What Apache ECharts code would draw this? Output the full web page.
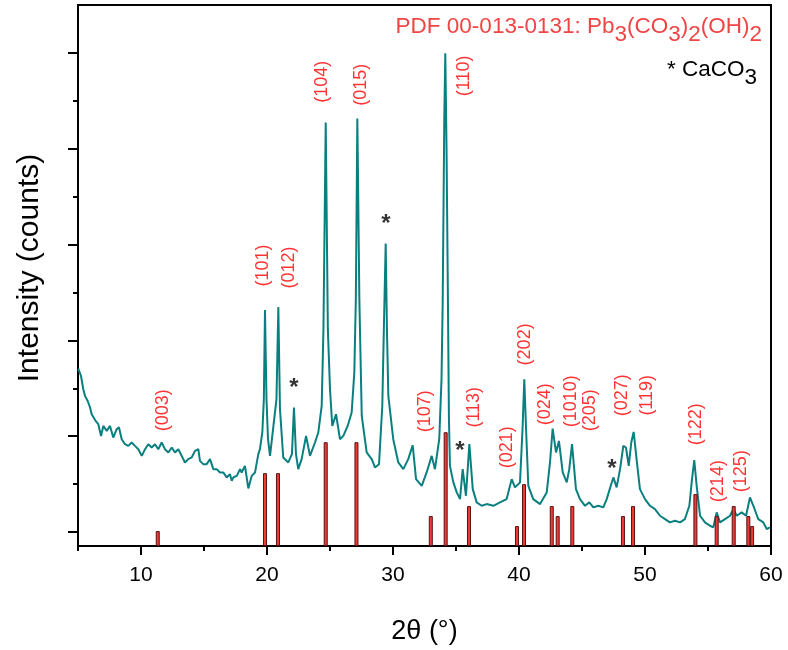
<!DOCTYPE html>
<html>
<head>
<meta charset="utf-8">
<title>XRD Pb3(CO3)2(OH)2</title>
<script src="https://cdn.jsdelivr.net/npm/echarts@6/dist/echarts.min.js"></script>
<style>
  html, body { margin: 0; padding: 0; background: #fff; }
  #chart { width: 788px; height: 650px; }
</style>
</head>
<body>
<div id="chart"></div>
<script>
// measured pattern: 2θ (deg) and intensity (counts)
const twoTheta = [
  5.02, 5.24, 5.42, 5.56, 5.77, 5.95, 6.09, 6.21, 6.40, 6.61, 6.83, 7.01, 7.28, 7.54, 7.80, 8.07, 8.25, 8.47, 8.73, 8.99,
  9.26, 9.52, 9.79, 10.06, 10.32, 10.58, 10.85, 11.11, 11.37, 11.64, 11.90, 12.17, 12.44, 12.70, 12.96, 13.23, 13.49, 13.75, 14.02, 14.29,
  14.55, 14.68, 14.94, 15.21, 15.48, 15.74, 16.01, 16.27, 16.53, 16.80, 17.06, 17.20, 17.33, 17.60, 17.86, 17.99, 18.25, 18.52, 18.79, 19.05,
  19.31, 19.44, 19.63, 19.75, 19.84, 19.96, 20.08, 20.24, 20.75, 20.90, 21.03, 21.29, 21.69, 21.98, 22.14, 22.30, 22.48, 22.75, 23.10, 23.41,
  23.81, 24.07, 24.34, 24.48, 24.66, 24.83, 25.00, 25.18, 25.48, 25.79, 26.06, 26.40, 26.72, 26.93, 27.05, 27.17, 27.33, 27.52, 27.91, 28.31,
  28.57, 28.89, 29.15, 29.29, 29.42, 29.52, 29.63, 29.76, 30.02, 30.42, 30.82, 30.95, 31.21, 31.56, 31.83, 32.28, 32.67, 33.07, 33.33, 33.67,
  33.85, 33.94, 34.07, 34.15, 34.25, 34.34, 34.44, 34.52, 34.79, 35.06, 35.32, 35.53, 35.79, 36.06, 36.33, 36.64, 37.04, 37.44, 37.96, 38.49,
  39.02, 39.42, 39.68, 40.08, 40.28, 40.42, 40.56, 40.74, 41.13, 41.67, 42.20, 42.46, 42.67, 42.94, 43.17, 43.47, 43.79, 43.99, 44.21, 44.52,
  44.84, 45.24, 45.58, 45.90, 46.29, 46.69, 46.96, 47.28, 47.49, 47.75, 48.02, 48.28, 48.49, 48.71, 48.91, 49.10, 49.39, 49.60, 50.00, 50.40,
  50.79, 51.19, 51.59, 51.98, 52.38, 52.78, 53.17, 53.52, 53.73, 53.91, 54.10, 54.37, 54.76, 55.16, 55.42, 55.69, 55.95, 56.35, 56.75, 57.01,
  57.28, 57.67, 58.02, 58.33, 58.60, 58.99, 59.39, 59.66, 59.92
];
const counts = [
  1777, 1703, 1570, 1503, 1453, 1390, 1320, 1303, 1253, 1220, 1103, 1203, 1153, 1203, 1087, 1170, 1190, 1070, 1020, 1003,
  1037, 1003, 970, 903, 970, 1020, 987, 1020, 970, 1037, 970, 937, 987, 937, 970, 903, 837, 870, 887, 953,
  970, 853, 820, 820, 870, 770, 770, 737, 737, 687, 720, 653, 687, 703, 770, 737, 803, 577, 703, 737,
  920, 970, 1140, 1470, 2363, 1470, 1070, 903, 1470, 2393, 1370, 887, 837, 920, 1387, 920, 770, 870, 1103, 903,
  1037, 1137, 1403, 2170, 4243, 2170, 1570, 1203, 1320, 1070, 1103, 1203, 1337, 1737, 2470, 4283, 2470, 1303, 937, 870,
  787, 820, 1403, 2270, 3030, 2170, 1503, 1503, 1070, 837, 770, 770, 870, 1010, 670, 603, 737, 903, 770, 1070,
  1670, 2403, 4270, 4937, 3970, 2740, 1270, 803, 637, 537, 470, 770, 503, 1020, 570, 437, 403, 420, 403, 437,
  470, 670, 587, 637, 1170, 1670, 1170, 603, 470, 420, 537, 837, 1177, 937, 1053, 737, 637, 770, 1020, 570,
  470, 403, 437, 387, 403, 387, 470, 603, 687, 587, 770, 1003, 987, 803, 1037, 1143, 803, 570, 470, 403,
  370, 303, 270, 237, 253, 237, 270, 403, 670, 860, 603, 303, 237, 203, 187, 337, 237, 270, 303, 370,
  303, 337, 303, 487, 403, 270, 237, 170, 187
];

// reference pattern PDF 00-013-0131 (stick positions and heights)
const stickPos = [11.33, 19.84, 20.87, 24.66, 27.10, 33.00, 34.18, 36.03, 39.84, 40.40, 42.60, 43.07, 44.23, 48.25, 49.05, 54.00, 55.69, 57.04, 58.20, 58.50];
const stickHeight = [150, 730, 730, 1040, 1040, 300, 1140, 400, 200, 620, 400, 300, 400, 300, 400, 520, 300, 400, 300, 200];

// hkl labels (centre position in data units)
const hklText = ['(003)', '(101)', '(012)', '(104)', '(015)', '(110)', '(107)', '(113)', '(021)', '(202)', '(024)', '(1010)', '(205)', '(027)', '(119)', '(122)', '(214)', '(125)'];
const hklX = [11.75, 19.68, 21.71, 24.37, 27.46, 35.63, 32.54, 36.43, 39.05, 40.48, 42.10, 44.13, 45.63, 48.17, 50.20, 54.05, 55.79, 57.62];
const hklY = [1360, 2810, 2790, 4650, 4620, 4710, 1350, 1390, 990, 2020, 1420, 1450, 1360, 1510, 1510, 1220, 650, 750];

// CaCO3 markers
const starX = [22.14, 29.44, 35.32, 47.38];
const starY = [1650, 3290, 1020, 840];

// axis ticks
const xMajor = [10, 20, 30, 40, 50, 60];
const xMinor = [5, 15, 25, 35, 45, 55];
const yMajor = [140, 1100, 2060, 3020, 3980, 4940];
const yMinor = [620, 1580, 2540, 3500, 4460];

const FONT = 'Liberation Sans, Arial, sans-serif';

const chart = echarts.init(document.getElementById('chart'));

const curveData = twoTheta.map((t, i) => [t, counts[i]]);
const stickData = stickPos.map((t, i) => [t, stickHeight[i]]);
const hklData = hklText.map((s, i) => ({ value: [hklX[i], hklY[i]], name: s }));
const starData = starX.map((t, i) => [t, starY[i]]);

const option = {
  animation: false,
  grid: {
    left: 78, right: 17, top: 5, bottom: 103,
    show: true, borderColor: '#000', borderWidth: 2
  },
  xAxis: [
    {
      type: 'value', min: 5, max: 60,
      name: '2θ (°)', nameLocation: 'middle', nameGap: 72,
      nameTextStyle: { fontSize: 27, fontFamily: FONT, color: '#000' },
      axisLine: { lineStyle: { color: '#000', width: 2 } },
      axisTick: { customValues: xMajor, length: 9, lineStyle: { color: '#000', width: 2 } },
      axisLabel: { customValues: xMajor, fontSize: 21, fontFamily: FONT, color: '#000', margin: 19 },
      splitLine: { show: false }
    },
    {
      type: 'value', min: 5, max: 60, position: 'bottom',
      axisLine: { show: false },
      axisTick: { customValues: xMinor, length: 5, lineStyle: { color: '#000', width: 2 } },
      axisLabel: { show: false },
      splitLine: { show: false }
    }
  ],
  yAxis: [
    {
      type: 'value', min: 0, max: 5420,
      axisLine: { show: true, lineStyle: { color: '#000', width: 2 } },
      axisTick: { show: true, customValues: yMajor, length: 10, lineStyle: { color: '#000', width: 2 } },
      axisLabel: { show: false },
      splitLine: { show: false }
    },
    {
      type: 'value', min: 0, max: 5420, position: 'left',
      axisLine: { show: false },
      axisTick: { show: true, customValues: yMinor, length: 5, lineStyle: { color: '#000', width: 2 } },
      axisLabel: { show: false },
      splitLine: { show: false }
    }
  ],
  series: [
    {
      type: 'line',
      data: curveData,
      showSymbol: false,
      lineStyle: { color: '#0a7f7f', width: 2 },
      z: 2
    },
    {
      type: 'bar',
      data: stickData,
      barWidth: 4,
      itemStyle: { color: '#ee3b36', borderColor: '#5a1212', borderWidth: 1 },
      z: 3
    },
    {
      type: 'scatter',
      data: hklData,
      symbolSize: 0,
      label: {
        show: true, position: 'inside', rotate: 90,
        formatter: p => p.name,
        fontSize: 18, fontFamily: FONT, color: '#ff0000'
      },
      z: 4
    },
    {
      type: 'scatter',
      data: starData,
      symbolSize: 0,
      label: {
        show: true, position: 'inside', offset: [0, 7],
        formatter: '*',
        fontSize: 24, fontWeight: 'bold', fontFamily: FONT, color: '#000'
      },
      z: 4
    }
  ],
  graphic: [
    {
      // y axis title
      type: 'text', x: 30, y: 268, rotation: Math.PI / 2,
      style: {
        text: 'Intensity (counts)', fontSize: 30, fontFamily: FONT, fill: '#000',
        align: 'center', verticalAlign: 'middle'
      }
    },
    {
      type: 'text', right: 26, top: 15,
      style: {
        text: '{n|PDF 00-013-0131: Pb}{s|3}{n|(CO}{s|3}{n|)}{s|2}{n|(OH)}{s|2}',
        rich: {
          n: { fontSize: 22.5, fontFamily: FONT, fill: '#f04545', lineHeight: 23, verticalAlign: 'bottom', padding: [0, 0, 8, 0] },
          s: { fontSize: 22.5, fontFamily: FONT, fill: '#f04545', lineHeight: 23, verticalAlign: 'bottom' }
        }
      }
    },
    {
      type: 'text', right: 31, top: 58,
      style: {
        text: '{n|* CaCO}{s|3}',
        rich: {
          n: { fontSize: 22.5, fontFamily: FONT, fill: '#000', lineHeight: 23, verticalAlign: 'bottom', padding: [0, 0, 8, 0] },
          s: { fontSize: 22.5, fontFamily: FONT, fill: '#000', lineHeight: 23, verticalAlign: 'bottom' }
        }
      }
    }
  ]
};

chart.setOption(option);
</script>
</body>
</html>
